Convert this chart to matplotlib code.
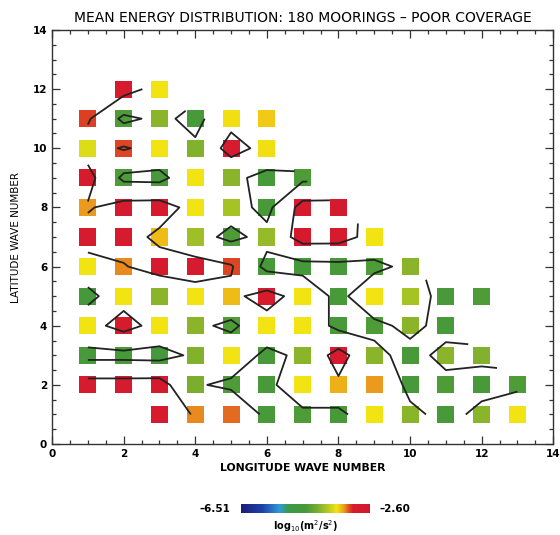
import numpy as np
import matplotlib
matplotlib.use("Agg")
import matplotlib.pyplot as plt
from matplotlib.colors import LinearSegmentedColormap, Normalize
from matplotlib.ticker import MultipleLocator

# ---- data: log10 energy (m^2/s^2) at (longitude, latitude) wave numbers ----
lat_values = [1, 2, 3, 4, 5, 6, 7, 8, 9, 10, 11, 12]
lon_start = [3, 1, 1, 1, 1, 1, 1, 1, 1, 1, 1, 2]
energy_lat01 = [-2.95, -3.35, -3.30, -4.55, -4.50, -4.55, -3.62, -4.10, -4.55, -4.10, -3.62]
energy_lat02 = [-2.95, -2.95, -2.92, -4.20, -4.50, -4.55, -3.62, -3.45, -3.38, -4.55, -4.50, -4.55, -4.50]
energy_lat03 = [-4.55, -4.55, -4.60, -4.15, -3.62, -4.55, -4.10, -2.95, -4.10, -4.55, -4.10, -4.15]
energy_lat04 = [-3.62, -2.98, -3.62, -4.10, -4.50, -3.62, -3.62, -4.55, -4.50, -4.10, -4.55]
energy_lat05 = [-4.60, -3.62, -4.10, -3.62, -3.48, -3.00, -3.62, -4.55, -3.62, -3.95, -4.55, -4.50]
energy_lat06 = [-3.62, -3.35, -2.95, -2.95, -3.22, -4.55, -4.60, -4.55, -4.50, -4.10]
energy_lat07 = [-2.95, -2.95, -3.48, -4.00, -4.50, -4.05, -2.92, -2.95, -3.62]
energy_lat08 = [-3.38, -2.95, -2.90, -3.62, -3.95, -4.55, -2.95, -2.92]
energy_lat09 = [-2.98, -4.50, -4.55, -3.62, -4.10, -4.55, -4.50]
energy_lat10 = [-3.70, -3.22, -3.62, -4.15, -2.95, -3.60]
energy_lat11 = [-3.20, -4.50, -4.10, -4.55, -3.60, -3.52]
energy_lat12 = [-2.95, -3.62]
energy_rows = [energy_lat01, energy_lat02, energy_lat03, energy_lat04, energy_lat05,
               energy_lat06, energy_lat07, energy_lat08, energy_lat09, energy_lat10,
               energy_lat11, energy_lat12]
vmin, vmax = -6.51, -2.60
contour_levels = [-4.3, -3.3]

title = "MEAN ENERGY DISTRIBUTION: 180 MOORINGS \u2013 POOR COVERAGE"
xlabel = "LONGITUDE WAVE NUMBER"
ylabel = "LATITUDE WAVE NUMBER"

# ---- build point lists and grid ----
lons, lats, vals = [], [], []
grid = np.full((14, 15), np.nan)
for lat, s, row in zip(lat_values, lon_start, energy_rows):
    for k, v in enumerate(row):
        lons.append(s + k)
        lats.append(lat)
        vals.append(v)
        grid[lat, s + k] = v

cmap = LinearSegmentedColormap.from_list("energy", [
    (0.00, "#1b1f7a"), (0.16, "#1f3fa8"), (0.30, "#2f9ad8"), (0.36, "#3a9a4a"),
    (0.50, "#46993a"), (0.60, "#7fb02e"), (0.68, "#b8cc20"), (0.74, "#f2e512"),
    (0.77, "#f0c414"), (0.80, "#ec9a1e"), (0.835, "#e0521f"), (0.87, "#d81c2c"),
    (1.00, "#d01830")])
norm = Normalize(vmin, vmax)

plt.rcParams["font.family"] = ["DejaVu Sans"]
fig = plt.figure(figsize=(5.6, 5.35), dpi=100)
ax = fig.add_axes([0.093, 0.170, 0.895, 0.774])

ax.scatter(lons, lats, c=vals, cmap=cmap, norm=norm, marker="s", s=150,
           linewidths=0, zorder=2)

X, Y = np.meshgrid(np.arange(15), np.arange(14))
ax.contour(X, Y, np.ma.masked_invalid(grid), levels=contour_levels,
           colors="#222222", linewidths=1.3, linestyles="solid", zorder=3)

ax.set_xlim(0, 14)
ax.set_ylim(0, 14)
ax.xaxis.set_major_locator(MultipleLocator(2))
ax.xaxis.set_minor_locator(MultipleLocator(0.5))
ax.yaxis.set_major_locator(MultipleLocator(2))
ax.yaxis.set_minor_locator(MultipleLocator(0.5))
ax.tick_params(which="both", direction="in", top=True, right=True,
               labelsize=7.5, width=0.9, color="#333333")
ax.tick_params(which="major", length=6)
ax.tick_params(which="minor", length=3)
for lab in ax.get_xticklabels() + ax.get_yticklabels():
    lab.set_fontweight("bold")
for sp in ax.spines.values():
    sp.set_linewidth(1.0)
    sp.set_color("#333333")

ax.set_title(title, fontsize=10, pad=6)
ax.set_xlabel(xlabel, fontsize=7.8, fontweight="bold", labelpad=3)
ax.set_ylabel(ylabel, fontsize=7.5, labelpad=8)

# colorbar
cax = fig.add_axes([0.430, 0.041, 0.230, 0.017])
grad = np.linspace(vmin, vmax, 256).reshape(1, -1)
cax.imshow(grad, aspect="auto", cmap=cmap, norm=norm,
           extent=[vmin, vmax, 0, 1])
cax.set_xticks([])
cax.set_yticks([])
for sp in cax.spines.values():
    sp.set_visible(False)
cax.text(-0.08, 0.5, f"{vmin:.2f}".replace("-", "\u2013"), transform=cax.transAxes,
         ha="right", va="center", fontsize=7.5, fontweight="bold")
cax.text(1.08, 0.5, f"{vmax:.2f}".replace("-", "\u2013"), transform=cax.transAxes,
         ha="left", va="center", fontsize=7.5, fontweight="bold")
cax.text(0.5, -0.6, r"log$_{10}$(m$^2$/s$^2$)", transform=cax.transAxes,
         ha="center", va="top", fontsize=7, fontweight="bold")

fig.savefig("out.png", dpi=100)
